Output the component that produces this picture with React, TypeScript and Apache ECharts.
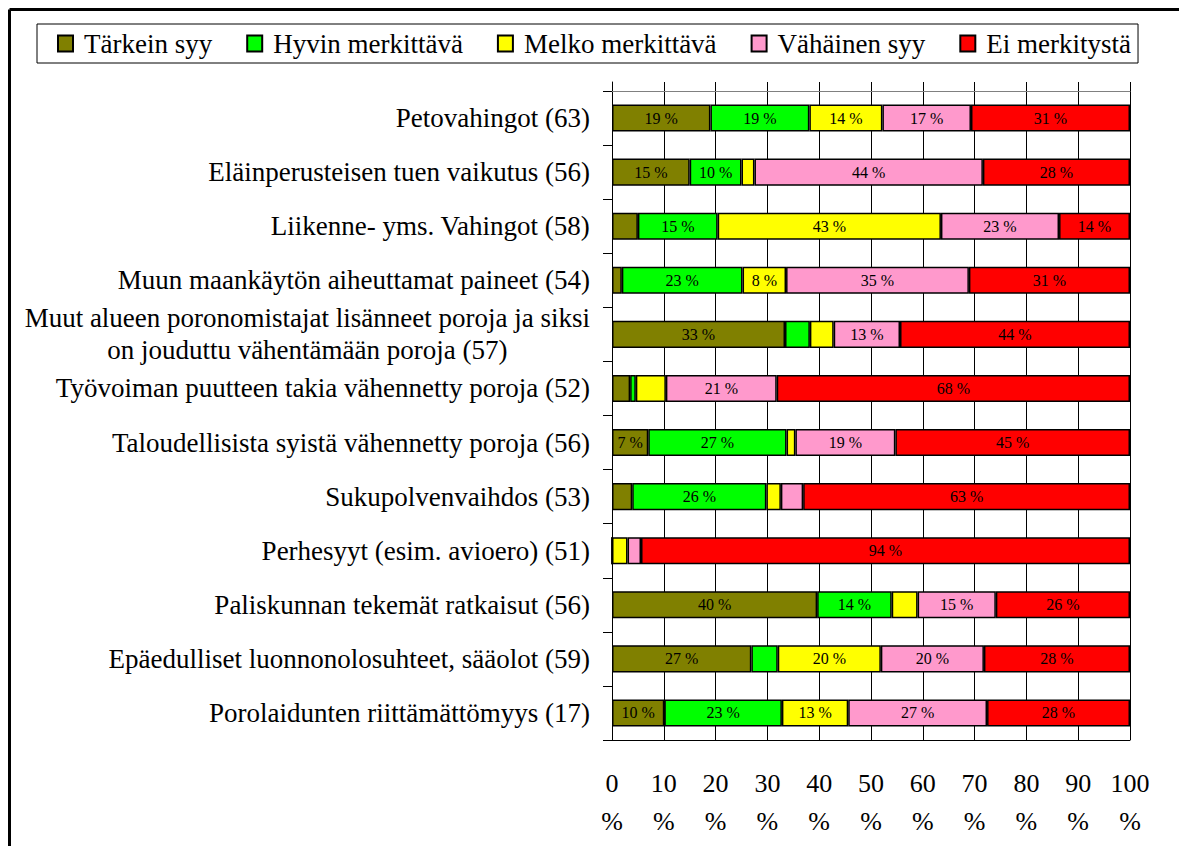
import React, { useEffect, useRef } from "react";
import * as echarts from "echarts";

const categories = [
  "Petovahingot (63)",
  "Eläinperusteisen tuen vaikutus (56)",
  "Liikenne- yms. Vahingot (58)",
  "Muun maankäytön aiheuttamat paineet (54)",
  "Muut alueen poronomistajat lisänneet poroja ja siksi\non jouduttu vähentämään poroja (57)",
  "Työvoiman puutteen takia vähennetty poroja (52)",
  "Taloudellisista syistä vähennetty poroja (56)",
  "Sukupolvenvaihdos (53)",
  "Perhesyyt (esim. avioero) (51)",
  "Paliskunnan tekemät ratkaisut (56)",
  "Epäedulliset luonnonolosuhteet, sääolot (59)",
  "Porolaidunten riittämättömyys (17)",
];

const seriesNames = ["Tärkein syy", "Hyvin merkittävä", "Melko merkittävä", "Vähäinen syy", "Ei merkitystä"];
const seriesColors = ["#808000", "#00FF00", "#FFFF00", "#FF99CC", "#FF0000"];

const tarkein = [19, 15, 5, 1.9, 33.4, 3.5, 7, 3.9, 0, 39.6, 26.9, 10.1];
const hyvin = [19.1, 10, 15.4, 23.3, 4.8, 1.1, 26.7, 25.9, 0, 14.4, 5.1, 22.7];
const melko = [14.1, 2.5, 43.1, 8.4, 4.6, 5.8, 1.7, 2.8, 3.0, 5.0, 19.9, 12.8];
const vahainen = [17.1, 44.1, 22.8, 35.3, 12.8, 21.4, 19.3, 4.3, 2.6, 15.1, 19.9, 26.8];
const eiMerkitysta = [30.7, 28.4, 13.7, 31.1, 44.4, 68.2, 45.3, 63.1, 94.4, 25.9, 28.2, 27.6];

const FONT = "Liberation Serif";

export default function App() {
  const ref = useRef<HTMLDivElement>(null);

  useEffect(() => {
    if (!ref.current) return;
    const chart = echarts.init(ref.current, undefined, { renderer: "svg" });
    const values = [tarkein, hyvin, melko, vahainen, eiMerkitysta];

    const option: any = {
      animation: false,
      backgroundColor: "#ffffff",
      textStyle: { fontFamily: FONT },
      legend: {
        data: seriesNames,
        left: 37,
        top: 24,
        orient: "horizontal",
        padding: [6, 7, 6, 20],
        itemGap: 34,
        itemWidth: 15,
        itemHeight: 16,
        icon: "rect",
        borderColor: "#000",
        borderWidth: 1,
        textStyle: { fontSize: 27, color: "#000", fontFamily: FONT, padding: [0, 0, 0, 6] },
      },
      grid: [
        { left: 612, right: 49, top: 91, bottom: 106, outerBoundsMode: "none" },
        { left: 612, right: 49, top: 82, height: 9, outerBoundsMode: "none" },
      ],
      xAxis: [
        {
          type: "value",
          gridIndex: 0,
          min: 0,
          max: 100,
          interval: 10,
          axisLine: { show: true, lineStyle: { color: "#000", width: 1 } },
          axisTick: { show: false },
          splitLine: { show: true, lineStyle: { color: "#000", width: 1 } },
          axisLabel: {
            formatter: (v: number) => `${v}\n%`,
            fontSize: 26,
            lineHeight: 38,
            margin: 24,
            color: "#000",
            fontFamily: FONT,
          },
        },
        {
          type: "value",
          gridIndex: 0,
          position: "top",
          min: 0,
          max: 100,
          interval: 10,
          axisLine: { show: true, lineStyle: { color: "#808080", width: 1 } },
          axisTick: { show: false },
          axisLabel: { show: false },
          splitLine: { show: false },
        },
        {
          type: "value",
          gridIndex: 1,
          min: 0,
          max: 100,
          interval: 10,
          axisLine: { show: false },
          axisTick: { show: false },
          axisLabel: { show: false },
          splitLine: { show: true, lineStyle: { color: "#000", width: 1 } },
        },
      ],
      yAxis: [
        {
          type: "category",
          gridIndex: 0,
          data: categories,
          inverse: true,
          axisLine: { show: true, lineStyle: { color: "#000", width: 1 } },
          axisTick: { show: true, length: 9, lineStyle: { color: "#000" } },
          splitLine: { show: false },
          axisLabel: {
            margin: 22,
            color: "#000",
            fontSize: 27,
            fontFamily: FONT,
            lineHeight: 32,
            formatter: (v: string) =>
              v
                .split("\n")
                .map((s) => `{c|${s}}`)
                .join("\n"),
            rich: {
              c: { align: "center", fontSize: 27, lineHeight: 32, fontFamily: FONT, color: "#000" },
            },
          },
        },
        {
          type: "category",
          gridIndex: 1,
          data: ["top"],
          axisLine: { show: true, lineStyle: { color: "#000", width: 1 } },
          axisTick: { show: false },
          axisLabel: { show: false },
          splitLine: { show: false },
        },
      ],
      series: seriesNames.map((name, i) => ({
        name,
        type: "bar",
        stack: "total",
        xAxisIndex: 0,
        yAxisIndex: 0,
        barWidth: "50%",
        data: values[i],
        itemStyle: { color: seriesColors[i], borderColor: "#000", borderWidth: 1.5 },
        label: {
          show: true,
          position: "inside",
          fontSize: 16,
          color: "#000",
          fontFamily: FONT,
          formatter: (p: any) => (p.value >= 6 ? `${Math.round(p.value)} %` : ""),
        },
      })),
      graphic: [
        {
          type: "line",
          shape: { x1: 9.5, y1: 9.5, x2: 1179, y2: 9.5 },
          style: { stroke: "#000", lineWidth: 3 },
        },
        {
          type: "line",
          shape: { x1: 9.5, y1: 9.5, x2: 9.5, y2: 846 },
          style: { stroke: "#000", lineWidth: 3 },
        },
      ],
    };

    chart.setOption(option);
    return () => chart.dispose();
  }, []);

  return (
    <div
      ref={ref}
      style={{ position: "fixed", left: 0, top: 0, width: 1179, height: 846, background: "#fff" }}
    />
  );
}
